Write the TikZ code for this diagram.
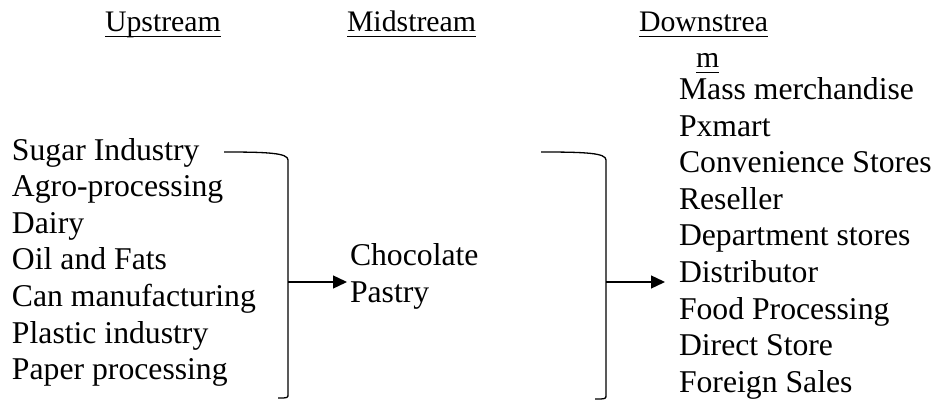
\documentclass[tikz,border=0pt]{standalone}
\usepackage{fontspec}
\setmainfont{Liberation Serif}
\usetikzlibrary{arrows.meta}
\begin{document}
\begin{tikzpicture}[x=1pt,y=-1pt,
  txt/.style={anchor=base west,inner sep=0pt,outer sep=0pt,
    font=\fontsize{31.7}{36.6}\selectfont},
  head/.style={txt,font=\fontsize{29.8}{34}\selectfont},
  uline/.style={line width=1.5pt},
  brk/.style={line width=1.3pt},
  flow/.style={line width=1.3pt,-{Triangle[length=14pt,width=13pt]}}]
\useasboundingbox (0,0) rectangle (936,401);

% column headings
\node[head] (up) at (105,31.5) {Upstream};
\node[head] (mid) at (347,31.5) {Midstream};
\node[head] (down) at (639,31.5) {Downstrea};
\node[head] (downm) at (696,67.5) {m};
\foreach \h in {up,mid,down,downm}
  \draw[uline] ([yshift=-5pt]\h.base west) -- ([yshift=-5pt]\h.base east);

% upstream industries, one line each
\foreach \t [count=\i] in {Sugar Industry,Agro-processing,Dairy,Oil and Fats,
    Can manufacturing,Plastic industry,Paper processing}
  \node[txt] (u\i) at (12,{160+36.65*(\i-1)}) {\t};

% midstream products
\node[txt] (m1) at (350,265) {Chocolate};
\node[txt] (m2) at (350,302) {Pastry};

% downstream channels
\foreach \t [count=\i] in {Mass merchandise,Pxmart,Convenience Stores,Reseller,
    Department stores,Distributor,Food Processing,Direct Store,Foreign Sales}
  \node[txt] (d\i) at (679,{99.5+36.6*(\i-1)}) {\t};

% brackets gathering each column
\coordinate (lbt) at (224,152);
\coordinate (lbj) at (288,282);
\coordinate (ltip) at (347,282);
\draw[brk] (lbt) .. controls (268,152) and (288,153) .. (288,160)
  -- (288,394) .. controls (288,398) .. (278,398);

\coordinate (rbt) at (541,152);
\coordinate (rbj) at (606,282);
\coordinate (rtip) at (665,282);
\draw[brk] (rbt) .. controls (586,152) and (606,153) .. (606,160)
  -- (606,395) .. controls (606,399) .. (595,399);

% flow arrows
\draw[flow] (lbj) -- (ltip);
\draw[flow] (rbj) -- (rtip);
\end{tikzpicture}
\end{document}
